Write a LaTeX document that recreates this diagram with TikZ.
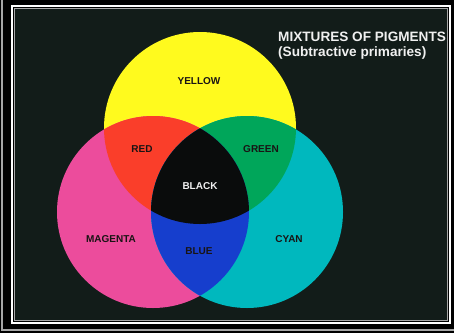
\documentclass[tikz,border=0pt]{standalone}
\usepackage{fontspec}
\setmainfont{Liberation Sans}
\definecolor{pyellow}{RGB}{255,250,30}
\definecolor{pmagenta}{RGB}{236,76,156}
\definecolor{pcyan}{RGB}{0,184,190}
\definecolor{pred}{RGB}{250,62,42}
\definecolor{pgreen}{RGB}{0,166,90}
\definecolor{pblue}{RGB}{22,62,205}
\definecolor{pblack}{RGB}{10,12,12}
\definecolor{board}{RGB}{18,28,25}
\definecolor{labelink}{RGB}{25,20,20}
\definecolor{titlewhite}{RGB}{240,240,240}
\begin{document}
\begin{tikzpicture}[x=1pt,y=-1pt,
  lbl/.style={font=\bfseries\fontsize{10}{12}\selectfont, text=labelink, inner sep=0pt},
  ttl/.style={font=\bfseries\fontsize{13.6}{16}\selectfont, text=titlewhite, inner sep=0pt, anchor=base west},
  frameline/.style={draw=white, line width=2pt},
  innerline/.style={draw=gray!70, line width=0.7pt}]
\useasboundingbox (0,0) rectangle (454,333);
% outer mount
\fill[black] (0,0) rectangle (454,333);
\draw[gray!70, line width=1.5pt] (2,0) -- (2,330) -- (454,330);
\draw[frameline] (12,6) rectangle (449.5,322.5);
\fill[board] (14,8) rectangle (447.5,320.5);
\draw[innerline] (14.5,8.5) rectangle (447,320);
% circle centres
\coordinate (Y) at (200,128);
\coordinate (M) at (153,212);
\coordinate (C) at (247,212);
\def\R{96}
% primaries
\fill[pyellow] (Y) circle (\R);
\fill[pmagenta] (M) circle (\R);
\fill[pcyan] (C) circle (\R);
% secondaries
\begin{scope}
  \clip (Y) circle (\R);
  \fill[pred] (M) circle (\R);
  \fill[pgreen] (C) circle (\R);
\end{scope}
\begin{scope}
  \clip (M) circle (\R);
  \fill[pblue] (C) circle (\R);
\end{scope}
\begin{scope}
  \clip (Y) circle (\R);
  \clip (M) circle (\R);
  \fill[pblack] (C) circle (\R);
\end{scope}
% labels
\node[lbl] (lyellow) at (199,81) {YELLOW};
\node[lbl] (lred) at (142,149) {RED};
\node[lbl] (lgreen) at (261,149) {GREEN};
\node[lbl, text=titlewhite] (lblack) at (200,186) {BLACK};
\node[lbl] (lmagenta) at (111,239) {MAGENTA};
\node[lbl] (lblue) at (199,251) {BLUE};
\node[lbl] (lcyan) at (289,239) {CYAN};
% title
\node[ttl] (title1) at (278,41) {MIXTURES OF PIGMENTS};
\node[ttl] (title2) at (278,56) {(Subtractive primaries)};
\end{tikzpicture}
\end{document}
